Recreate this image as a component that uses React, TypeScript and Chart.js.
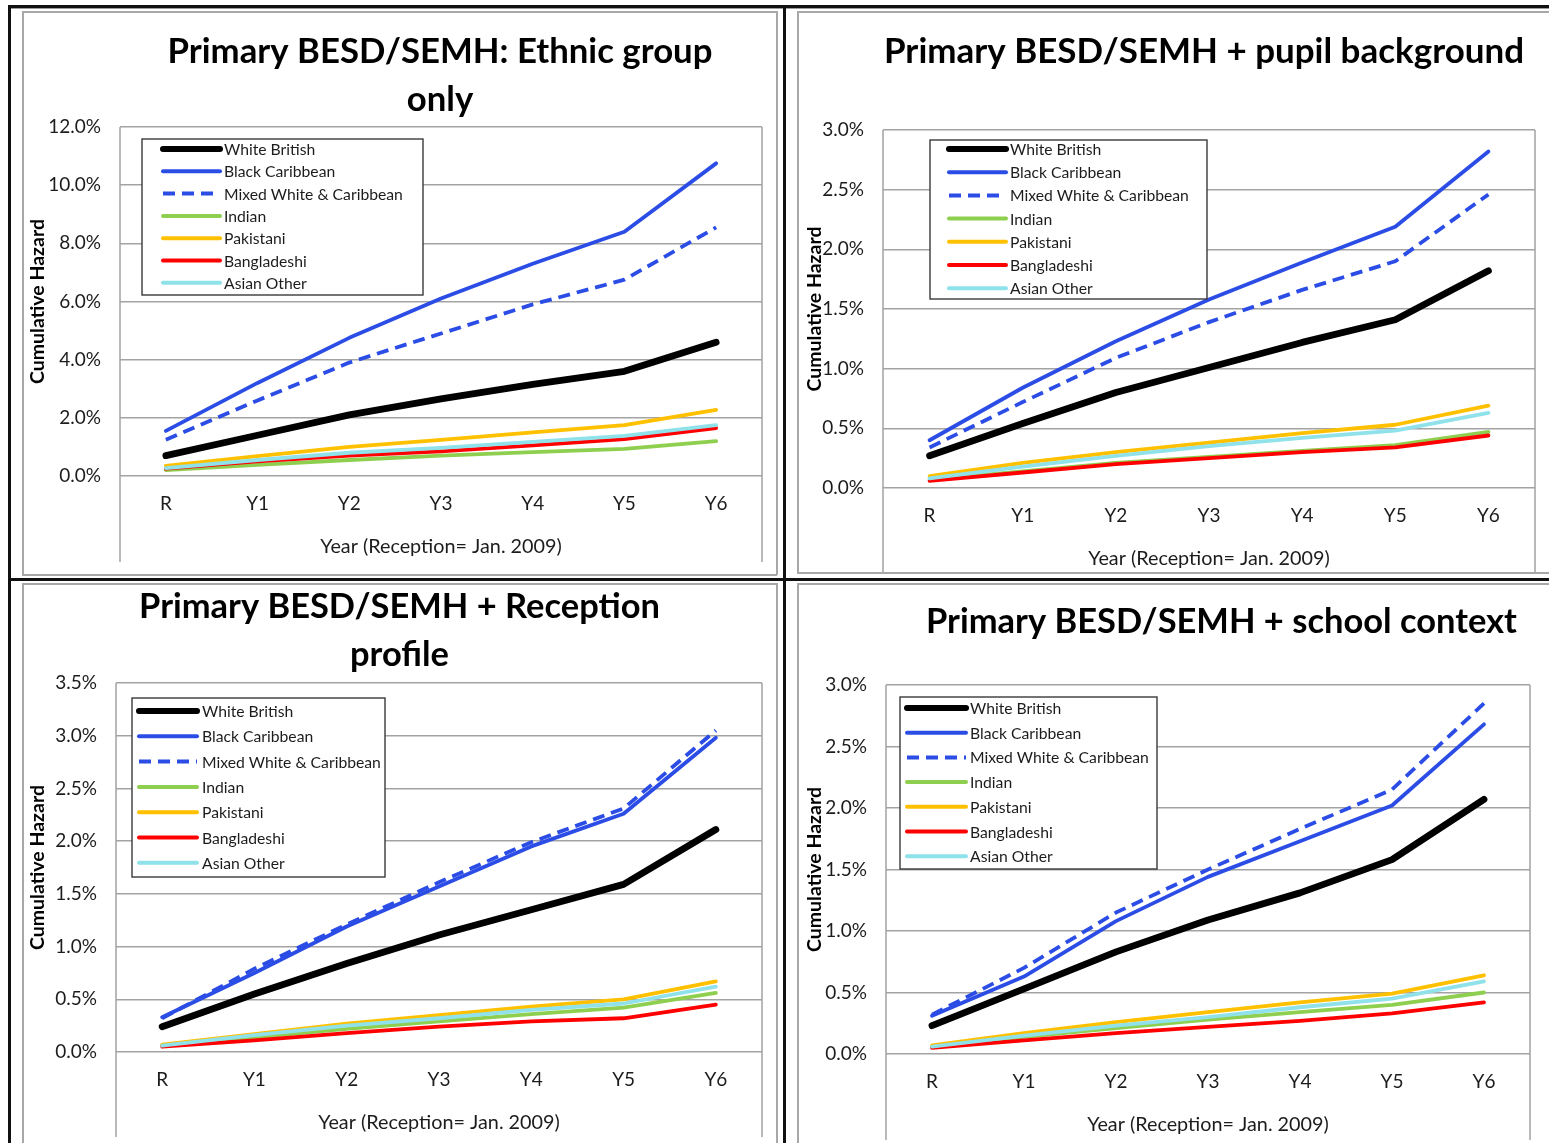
import React, { useEffect, useRef } from 'react';
import { Chart, registerables } from 'chart.js';

Chart.register(...registerables);

const FONT = 'Lato, "Open Sans", "DejaVu Sans", sans-serif';
const TEXT_COLOR = '#1c1c1c';
const GRID_COLOR = '#a3a3a3';

// ---------- data ----------
const YEARS = ['R', 'Y1', 'Y2', 'Y3', 'Y4', 'Y5', 'Y6'];
const GROUPS = ['White British', 'Black Caribbean', 'Mixed White & Caribbean', 'Indian', 'Pakistani', 'Bangladeshi', 'Asian Other'];
const GROUP_COLORS = ['#000000', '#2b4de6', '#2b4de6', '#8fcf4f', '#ffc000', '#ff0000', '#8fe1ea'];
const GROUP_DASHED = [false, false, true, false, false, false, false];

const X_TITLE = 'Year (Reception= Jan. 2009)';
const Y_TITLE = 'Cumulative Hazard';

// Panel A: ethnic group only (cumulative hazard, %)
const A_WHITE_BRITISH = [0.7, 1.4, 2.1, 2.65, 3.15, 3.6, 4.6];
const A_BLACK_CARIBBEAN = [1.55, 3.2, 4.75, 6.1, 7.3, 8.4, 10.75];
const A_MIXED_WC = [1.25, 2.6, 3.9, 4.9, 5.9, 6.75, 8.55];
const A_INDIAN = [0.2, 0.38, 0.55, 0.7, 0.82, 0.93, 1.2];
const A_PAKISTANI = [0.35, 0.68, 1.0, 1.24, 1.5, 1.75, 2.27];
const A_BANGLADESHI = [0.25, 0.5, 0.7, 0.85, 1.05, 1.27, 1.65];
const A_ASIAN_OTHER = [0.27, 0.55, 0.8, 0.97, 1.17, 1.38, 1.75];

// Panel B: + pupil background
const B_WHITE_BRITISH = [0.27, 0.54, 0.8, 1.01, 1.22, 1.41, 1.82];
const B_BLACK_CARIBBEAN = [0.4, 0.84, 1.23, 1.58, 1.89, 2.19, 2.82];
const B_MIXED_WC = [0.34, 0.72, 1.09, 1.39, 1.66, 1.9, 2.46];
const B_INDIAN = [0.07, 0.14, 0.21, 0.26, 0.31, 0.36, 0.47];
const B_PAKISTANI = [0.1, 0.21, 0.3, 0.38, 0.46, 0.53, 0.69];
const B_BANGLADESHI = [0.06, 0.13, 0.2, 0.25, 0.3, 0.34, 0.44];
const B_ASIAN_OTHER = [0.08, 0.18, 0.27, 0.35, 0.42, 0.48, 0.63];

// Panel C: + Reception profile
const C_WHITE_BRITISH = [0.24, 0.55, 0.84, 1.11, 1.35, 1.59, 2.11];
const C_BLACK_CARIBBEAN = [0.33, 0.75, 1.19, 1.57, 1.95, 2.26, 2.98];
const C_MIXED_WC = [0.32, 0.79, 1.21, 1.61, 1.99, 2.31, 3.05];
const C_INDIAN = [0.06, 0.14, 0.22, 0.29, 0.36, 0.42, 0.56];
const C_PAKISTANI = [0.07, 0.17, 0.27, 0.35, 0.43, 0.5, 0.67];
const C_BANGLADESHI = [0.05, 0.11, 0.18, 0.24, 0.29, 0.32, 0.45];
const C_ASIAN_OTHER = [0.06, 0.16, 0.25, 0.32, 0.4, 0.46, 0.62];

// Panel D: + school context
const D_WHITE_BRITISH = [0.23, 0.53, 0.83, 1.09, 1.31, 1.58, 2.07];
const D_BLACK_CARIBBEAN = [0.31, 0.63, 1.08, 1.44, 1.73, 2.02, 2.68];
const D_MIXED_WC = [0.32, 0.7, 1.15, 1.5, 1.83, 2.15, 2.85];
const D_INDIAN = [0.06, 0.14, 0.21, 0.28, 0.34, 0.4, 0.5];
const D_PAKISTANI = [0.07, 0.17, 0.26, 0.34, 0.42, 0.49, 0.64];
const D_BANGLADESHI = [0.05, 0.11, 0.17, 0.22, 0.27, 0.33, 0.42];
const D_ASIAN_OTHER = [0.06, 0.15, 0.23, 0.3, 0.38, 0.45, 0.59];

// ---------- layout (page coordinates) ----------
const PANELS = [
  {
    key: 'a',
    title: ['Primary BESD/SEMH: Ethnic group', 'only'],
    titleCx: 440, titleCy: 52, titleWidth: 545,
    series: [A_WHITE_BRITISH, A_BLACK_CARIBBEAN, A_MIXED_WC, A_INDIAN, A_PAKISTANI, A_BANGLADESHI, A_ASIAN_OTHER],
    yMax: 12, yStep: 2,
    box: [22, 11, 755, 564],
    area: [120, 127, 762, 476],
    frameBottom: 562,
    yTitleX: 38,
    legend: { x1: 142, y1: 139, x2: 423, y2: 295, s1: 163, s2: 220, tx: 224, row0: 149, gap: 22.3 },
    wbWidth: 6.8, width: 3.8,
  },
  {
    key: 'b',
    title: ['Primary BESD/SEMH + pupil background'],
    titleCx: 1204, titleCy: 52, titleWidth: 640,
    series: [B_WHITE_BRITISH, B_BLACK_CARIBBEAN, B_MIXED_WC, B_INDIAN, B_PAKISTANI, B_BANGLADESHI, B_ASIAN_OTHER],
    yMax: 3, yStep: 0.5,
    box: [797, 11, 752, 561],
    area: [883, 130, 1535, 488],
    frameBottom: 572,
    yTitleX: 815,
    legend: { x1: 930, y1: 140, x2: 1207, y2: 299, s1: 949, s2: 1006, tx: 1010, row0: 149, gap: 23.2 },
    wbWidth: 6.8, width: 3.8,
  },
  {
    key: 'c',
    title: ['Primary BESD/SEMH + Reception', 'profile'],
    titleCx: 399.5, titleCy: 607, titleWidth: 521,
    series: [C_WHITE_BRITISH, C_BLACK_CARIBBEAN, C_MIXED_WC, C_INDIAN, C_PAKISTANI, C_BANGLADESHI, C_ASIAN_OTHER],
    yMax: 3.5, yStep: 0.5,
    box: [22, 582, 755, 561],
    area: [116, 683, 762, 1052],
    frameBottom: 1137,
    yTitleX: 38,
    legend: { x1: 132, y1: 698, x2: 385, y2: 877, s1: 139, s2: 197, tx: 202, row0: 711, gap: 25.3 },
    wbWidth: 6.8, width: 3.8,
  },
  {
    key: 'd',
    title: ['Primary BESD/SEMH + school context'],
    titleCx: 1221.5, titleCy: 622, titleWidth: 591,
    series: [D_WHITE_BRITISH, D_BLACK_CARIBBEAN, D_MIXED_WC, D_INDIAN, D_PAKISTANI, D_BANGLADESHI, D_ASIAN_OTHER],
    yMax: 3, yStep: 0.5,
    box: [797, 582, 752, 561],
    area: [886, 685, 1530, 1054],
    frameBottom: 1140,
    yTitleX: 815,
    legend: { x1: 900, y1: 697, x2: 1157, y2: 869, s1: 907, s2: 966, tx: 970, row0: 708, gap: 24.7 },
    wbWidth: 6.8, width: 3.8,
  },
];

const TICK_SIZE = 19;
const XTITLE_SIZE = 19.8;
const YTITLE_SIZE = 19.5;
const LEGEND_TEXT_WIDTH = 179;

function fitFont(ctx, text, width, weight) {
  ctx.font = `${weight} 100px ${FONT}`;
  const w = ctx.measureText(text).width;
  return (100 * width) / w;
}

function PanelChart({ p }) {
  const ref = useRef(null);
  useEffect(() => {
    const [cx, cy, cw, ch] = p.box;
    const [L, T, R, B] = p.area;
    const xH = ch - (B - cy);
    const xTitleLH = XTITLE_SIZE * 1.2;
    const yTitleLH = YTITLE_SIZE * 1.2;

    const decor = {
      id: 'decor' + p.key,
      beforeDatasetsDraw(chart) {
        const ctx = chart.ctx;
        const a = chart.chartArea;
        ctx.save();
        ctx.strokeStyle = GRID_COLOR;
        ctx.lineWidth = 1.5;
        ctx.beginPath();
        ctx.moveTo(a.left, a.top);
        ctx.lineTo(a.left, p.frameBottom - cy);
        ctx.moveTo(a.right, a.top);
        ctx.lineTo(a.right, p.frameBottom - cy);
        ctx.stroke();
        ctx.restore();
      },
      afterDatasetsDraw(chart) {
        const ctx = chart.ctx;
        const lg = p.legend;
        ctx.save();
        ctx.fillStyle = '#ffffff';
        ctx.fillRect(lg.x1 - cx, lg.y1 - cy, lg.x2 - lg.x1, lg.y2 - lg.y1);
        ctx.strokeStyle = '#3a3a3a';
        ctx.lineWidth = 1.4;
        ctx.strokeRect(lg.x1 - cx, lg.y1 - cy, lg.x2 - lg.x1, lg.y2 - lg.y1);
        const size = fitFont(ctx, GROUPS[2], LEGEND_TEXT_WIDTH, 'normal');
        GROUPS.forEach((name, i) => {
          const y = lg.row0 + i * lg.gap - cy;
          ctx.beginPath();
          ctx.strokeStyle = GROUP_COLORS[i];
          ctx.lineWidth = i === 0 ? 6 : 4;
          ctx.lineCap = GROUP_DASHED[i] ? 'butt' : 'round';
          ctx.setLineDash(GROUP_DASHED[i] ? [12, 7] : []);
          ctx.moveTo(lg.s1 - cx, y);
          ctx.lineTo(lg.s2 - cx, y);
          ctx.stroke();
          ctx.setLineDash([]);
          ctx.fillStyle = TEXT_COLOR;
          ctx.font = `normal ${size}px ${FONT}`;
          ctx.textAlign = 'left';
          ctx.textBaseline = 'middle';
          ctx.fillText(name, lg.tx - cx, y + 1);
        });
        ctx.restore();
      },
      afterDraw(chart) {
        const ctx = chart.ctx;
        ctx.save();
        const size = fitFont(ctx, p.title[0], p.titleWidth, 'bold');
        ctx.font = `bold ${size}px ${FONT}`;
        ctx.fillStyle = '#000000';
        ctx.textAlign = 'center';
        ctx.textBaseline = 'middle';
        p.title.forEach((line, i) => {
          ctx.fillText(line, p.titleCx - cx, p.titleCy - cy + i * 48);
        });
        ctx.restore();
      },
    };

    const chart = new Chart(ref.current, {
      type: 'line',
      data: {
        labels: YEARS,
        datasets: p.series.map((vals, i) => ({
          label: GROUPS[i],
          data: vals,
          borderColor: GROUP_COLORS[i],
          backgroundColor: GROUP_COLORS[i],
          borderWidth: i === 0 ? p.wbWidth : p.width,
          borderDash: GROUP_DASHED[i] ? [12, 7] : [],
          borderCapStyle: GROUP_DASHED[i] ? 'butt' : 'round',
          borderJoinStyle: 'round',
          pointRadius: 0,
          pointHoverRadius: 0,
          tension: 0,
          fill: false,
          order: GROUPS.length - i,
        })),
      },
      options: {
        responsive: false,
        animation: false,
        devicePixelRatio: 1,
        layout: { padding: { left: 0, top: T - cy, right: cx + cw - R, bottom: 0 } },
        plugins: {
          legend: { display: false },
          tooltip: { enabled: false },
          title: { display: false },
        },
        scales: {
          x: {
            type: 'category',
            offset: true,
            grid: { display: false, drawTicks: false },
            border: { display: false },
            ticks: {
              padding: 28 - 0.6 * TICK_SIZE,
              autoSkip: false,
              maxRotation: 0,
              color: TEXT_COLOR,
              font: { family: FONT, size: TICK_SIZE },
            },
            title: {
              display: true,
              text: X_TITLE,
              color: TEXT_COLOR,
              font: { family: FONT, size: XTITLE_SIZE },
              padding: { top: 0, bottom: xH - 71 - xTitleLH / 2 },
            },
            afterFit: (s) => { s.height = xH; },
          },
          y: {
            min: 0,
            max: p.yMax,
            grid: { color: GRID_COLOR, lineWidth: 1.5, drawTicks: false },
            border: { display: false },
            ticks: {
              stepSize: p.yStep,
              padding: 19,
              color: TEXT_COLOR,
              font: { family: FONT, size: TICK_SIZE },
              callback: (v) => Number(v).toFixed(1) + '%',
            },
            title: {
              display: true,
              text: Y_TITLE,
              color: '#000000',
              font: { family: FONT, size: YTITLE_SIZE, weight: 'bold' },
              padding: { top: p.yTitleX - cx - yTitleLH / 2, bottom: 0 },
            },
            afterFit: (s) => { s.width = L - cx; },
          },
        },
      },
      plugins: [decor],
    });
    return () => chart.destroy();
  }, []);
  const [cx, cy, cw, ch] = p.box;
  return (
    <canvas
      ref={ref}
      width={cw}
      height={ch}
      style={{ position: 'absolute', left: cx, top: cy, width: cw, height: ch }}
    />
  );
}

function Line({ x, y, w, h, c }) {
  return <div style={{ position: 'absolute', left: x, top: y, width: w, height: h, background: c }} />;
}

export default function App() {
  return (
    <div style={{ position: 'absolute', left: 0, top: 0, width: 1549, height: 1143, background: '#ffffff', overflow: 'hidden' }}>
      {PANELS.map((p) => <PanelChart key={p.key} p={p} />)}
      {/* panel frames (thin gray) */}
      <Line x={22} y={11} w={755} h={1.5} c="#a8a8a8" />
      <Line x={22} y={11} w={1.5} h={564} c="#a8a8a8" />
      <Line x={776} y={11} w={1.5} h={564} c="#a8a8a8" />
      <Line x={22} y={574} w={755} h={1.5} c="#a8a8a8" />
      <Line x={797} y={11} w={752} h={1.5} c="#a8a8a8" />
      <Line x={797} y={11} w={1.5} h={562} c="#a8a8a8" />
      <Line x={797} y={572} w={752} h={1.5} c="#a8a8a8" />
      <Line x={22} y={583} w={755} h={1.5} c="#a8a8a8" />
      <Line x={22} y={583} w={1.5} h={560} c="#a8a8a8" />
      <Line x={776} y={583} w={1.5} h={560} c="#a8a8a8" />
      <Line x={797} y={583} w={752} h={1.5} c="#a8a8a8" />
      <Line x={797} y={583} w={1.5} h={560} c="#a8a8a8" />
      {/* outer heavy rules */}
      <Line x={8} y={5} w={1541} h={2.5} c="#111111" />
      <Line x={8} y={7.5} w={1541} h={1} c="#9a9a9a" />
      <Line x={8} y={5} w={2.5} h={1138} c="#111111" />
      <Line x={783} y={7} w={2.5} h={1136} c="#111111" />
      <Line x={8} y={578} w={1541} h={2.5} c="#111111" />
    </div>
  );
}
